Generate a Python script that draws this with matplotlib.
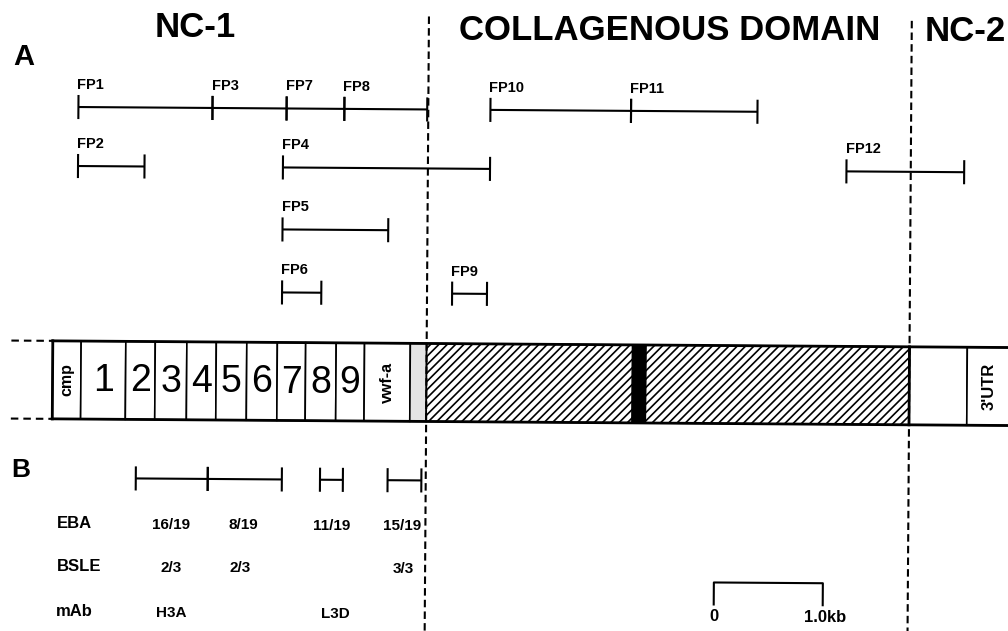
import matplotlib
matplotlib.use("Agg")
import matplotlib.pyplot as plt
from matplotlib.patches import Rectangle
from matplotlib.transforms import Affine2D

plt.rcParams['font.family'] = ['Liberation Sans', 'DejaVu Sans']
plt.rcParams['hatch.linewidth'] = 1.2

# map positions in kb, measured from the left end of the drawn cDNA
PX_PER_KB = 109
X0_PX = 53

# panel A: cDNA clones
fp_names = ['FP1', 'FP3', 'FP7', 'FP8', 'FP10', 'FP11',
            'FP2', 'FP4', 'FP12', 'FP5', 'FP6', 'FP9']
fp_start = [0.22, 1.45, 2.13, 2.66, 4.00, 5.29, 0.22, 2.10, 7.27, 2.10, 2.10, 3.66]
fp_end = [1.45, 2.13, 2.66, 3.42, 5.29, 6.45, 0.83, 4.00, 8.35, 3.07, 2.46, 3.98]
fp_row = [0, 0, 0, 0, 0, 0, 1, 1, 1, 2, 3, 3]

# domain borders and domain names
borders = [3.43, 7.86]
domains = ['NC-1', 'COLLAGENOUS DOMAIN', 'NC-2']

# protein map: plain cells of NC-1
cell_edges = [0.0, 0.26, 0.67, 0.94, 1.23, 1.50, 1.78, 2.06, 2.32, 2.60, 2.86, 3.28]
cell_labels = ['cmp', '1', '2', '3', '4', '5', '6', '7', '8', '9', 'vwf-a']
cys_rich = (3.28, 3.43)
collagen = [(3.43, 5.32), (5.44, 7.86)]
interruption = (5.32, 5.44)
nc2_cells = [(7.86, 8.39), (8.39, 9.2)]
nc2_labels = ['', "3'UTR"]

# panel B: fusion proteins and reactivity
b_bars = [(0.77, 1.43), (1.43, 2.11), (2.46, 2.67), (3.08, 3.39)]
b_rows = ['EBA', 'BSLE', 'mAb']
eba_pos = [1.10, 1.76, 2.57, 3.22]
eba_vals = ['16/19', '8/19', '11/19', '15/19']
bsle_pos = [1.10, 1.73, 3.23]
bsle_vals = ['2/3', '2/3', '3/3']
mab_pos = [1.10, 2.61]
mab_vals = ['H3A', 'L3D']
scale_start = 6.08
scale_len = 1.0

fig = plt.figure(figsize=(10.08, 6.31), dpi=100)
ax = fig.add_axes([0, 0, 1, 1])
ax.set_xlim(-X0_PX / PX_PER_KB, (1008 - X0_PX) / PX_PER_KB)
ax.set_ylim(631, 0)
ax.axis('off')

# the scan is slightly rotated
tr = ax.transData + Affine2D().rotate_deg_around(504, 315.5, -0.4)

lw = 1.5
tick_h = 11
row_y = [110, 169, 231, 294]
box_top, box_bot = 344, 422


def bracket(x0, x1, y):
    ax.plot([x0, x1], [y, y], color='black', lw=lw, transform=tr, solid_capstyle='butt')
    for x in (x0, x1):
        ax.plot([x, x], [y - tick_h, y + tick_h], color='black', lw=lw, transform=tr)


# domain titles
ax.text(1.29, 39, domains[0], ha='center', va='baseline', fontsize=25, fontweight='bold', transform=tr)
ax.text(3.71, 40, domains[1], ha='left', va='baseline', fontsize=25, fontweight='bold', transform=tr)
ax.text(7.98, 38.5, domains[2], ha='left', va='baseline', fontsize=25, fontweight='bold', transform=tr)
ax.text(-0.28, 60, 'A', ha='center', va='center', fontsize=21, fontweight='bold', transform=tr)
ax.text(-0.29, 473, 'B', ha='center', va='center', fontsize=19, fontweight='bold', transform=tr)

# dashed domain borders
for x, ytop in zip(borders, [17, 18]):
    ax.plot([x, x], [ytop, 640], color='black', lw=lw, dashes=(3.6, 2.0), transform=tr)

# cDNA clones
for name, s, e, r in zip(fp_names, fp_start, fp_end, fp_row):
    y = row_y[r]
    bracket(s, e, y)
    ax.text(s - 0.01, y - 22, name, ha='left', va='center', fontsize=10.5,
            fontweight='bold', transform=tr)

# protein map
for y in (box_top, box_bot):
    ax.plot([-0.38, 0.0], [y, y], color='black', lw=lw, dashes=(3.6, 2.4), transform=tr)

h = box_bot - box_top
for i, lab in enumerate(cell_labels):
    x0, x1 = cell_edges[i], (cell_edges + [cys_rich[0]])[i + 1]
    ax.add_patch(Rectangle((x0, box_top), x1 - x0, h, facecolor='white',
                           edgecolor='black', lw=1.2, transform=tr))
    xc = (x0 + x1) / 2
    if lab.isdigit():
        ax.text(xc, (box_top + box_bot) / 2 + 1, lab, ha='center', va='center',
                fontsize=27, transform=tr)
    else:
        ax.text(xc, (box_top + box_bot) / 2, lab, ha='center', va='center',
                fontsize=11.5, fontweight='bold', rotation=90, transform=tr)

ax.add_patch(Rectangle((cys_rich[0], box_top), cys_rich[1] - cys_rich[0], h,
                       facecolor='#e4e4e4', edgecolor='black', lw=1.2, transform=tr))
for s, e in collagen:
    ax.add_patch(Rectangle((s, box_top), e - s, h, facecolor='white', edgecolor='black',
                           hatch='////', lw=1.2, transform=tr))
ax.add_patch(Rectangle((interruption[0], box_top), interruption[1] - interruption[0], h,
                       facecolor='black', edgecolor='black', lw=1.2, transform=tr))
for (s, e), lab in zip(nc2_cells, nc2_labels):
    ax.add_patch(Rectangle((s, box_top), e - s, h, facecolor='white', edgecolor='black',
                           lw=1.2, transform=tr))
    if lab:
        ax.text(8.59, (box_top + box_bot) / 2, lab, ha='center', va='center',
                fontsize=12, fontweight='bold', rotation=90, transform=tr)

# outer frame of the map
ax.plot([0, 9.2], [box_top, box_top], color='black', lw=2, transform=tr)
ax.plot([0, 9.2], [box_bot, box_bot], color='black', lw=2, transform=tr)
ax.plot([0, 0], [box_top, box_bot], color='black', lw=2, transform=tr)
ax.plot([borders[1], borders[1]], [box_top, box_bot], color='black', lw=2, transform=tr)

# panel B
for s, e in b_bars:
    bracket(s, e, 481)

row_text_y = [527, 570, 615]
for lab, y in zip(b_rows, row_text_y):
    ax.text(0.05, y, lab, ha='left', va='center', fontsize=12, fontweight='bold', transform=tr)
for pos, vals, y in zip([eba_pos, bsle_pos, mab_pos], [eba_vals, bsle_vals, mab_vals], row_text_y):
    for p, v in zip(pos, vals):
        ax.text(p, y, v, ha='center', va='center', fontsize=11, fontweight='bold', transform=tr)

# scale bar
ax.plot([scale_start, scale_start, scale_start + scale_len, scale_start + scale_len],
        [603, 581, 581, 603], color='black', lw=lw, transform=tr)
ax.text(scale_start, 615, '0', ha='center', va='center', fontsize=12, fontweight='bold', transform=tr)
ax.text(scale_start + scale_len + 0.02, 615, '1.0kb', ha='center', va='center', fontsize=12,
        fontweight='bold', transform=tr)

fig.savefig('out.png', dpi=100)
